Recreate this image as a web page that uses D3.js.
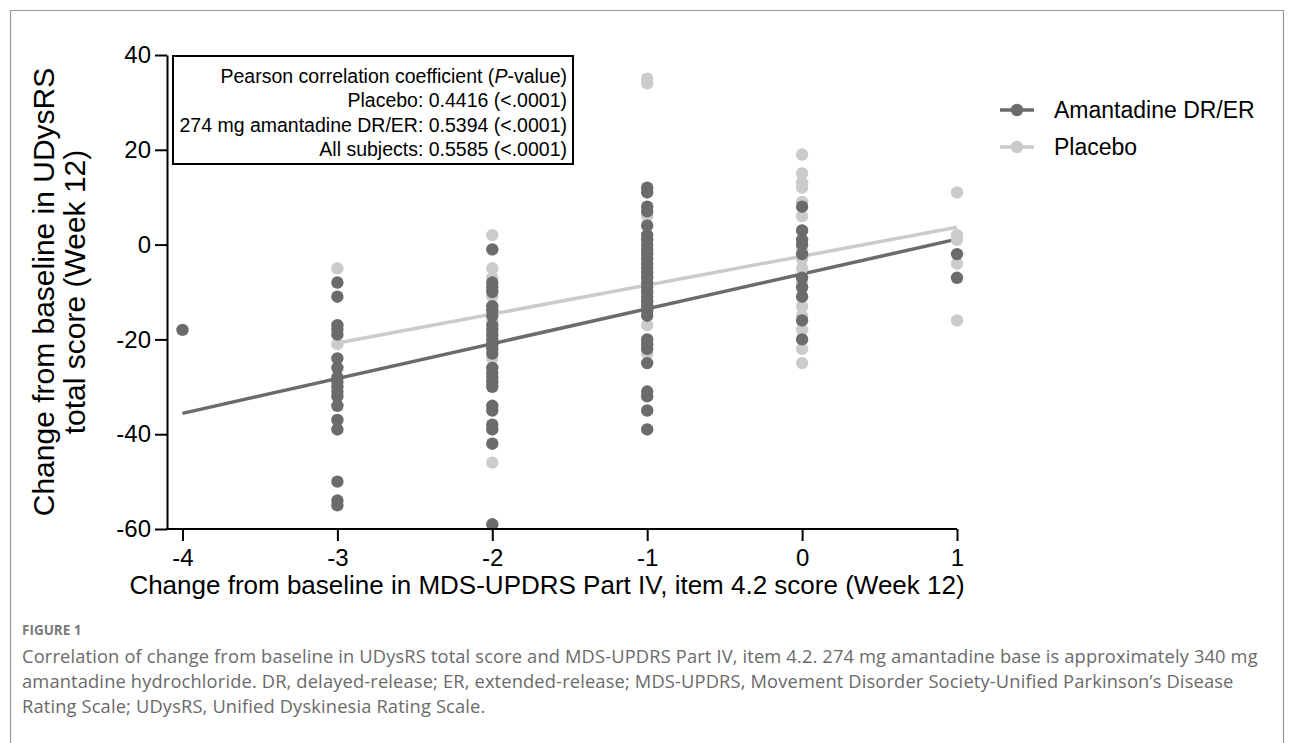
<!DOCTYPE html>
<html>
<head>
<meta charset="utf-8">
<script src="https://cdn.jsdelivr.net/npm/d3@7/dist/d3.min.js"></script>
<style>
  html, body { margin: 0; padding: 0; background: #fff; }
  svg { display: block; }
</style>
</head>
<body>
<svg id="chart" width="1292" height="743"></svg>
<script>
// ---------------- DATA ----------------
const xCategories = [-4, -3, -2, -1, 0, 1];
const xTicks = [-4, -3, -2, -1, 0, 1];
const yTicks = [-60, -40, -20, 0, 20, 40];

// Amantadine DR/ER points (change in UDysRS) for each x category
const amantadineX4 = [-18];
const amantadineX3 = [-8, -11, -17, -18, -19, -24, -26, -28, -29, -30, -31, -32, -34, -37, -39, -50, -54, -55];
const amantadineX2 = [-1, -8, -9, -10, -13, -14, -15, -17, -18, -19, -20, -21, -22, -23, -26, -27, -28, -29, -30, -34, -35, -38, -39, -42, -59];
const amantadineX1 = [12, 11, 8, 7, 4, 2, 1, 0, -1, -2, -3, -4, -5, -6, -7, -8, -9, -10, -11, -12, -13, -14, -15, -20, -21, -22, -25, -31, -32, -35, -39];
const amantadineX0 = [8, 3, 1, 0, -2, -7, -9, -11, -16, -20];
const amantadineXp1 = [-2, -7];

// Placebo points
const placeboX4 = [];
const placeboX3 = [-5, -21];
const placeboX2 = [2, -5, -7, -11, -16, -24, -46];
const placeboX1 = [35, 34, 6, -2, -6, -12, -17, -23];
const placeboX0 = [19, 15, 13, 12, 9, 6, -1, -3, -5, -8, -13, -15, -18, -22, -25];
const placeboXp1 = [11, 2, 1, -4, -16];

// Regression lines: [intercept, slope, xStart, xEnd]
const amantadineFit = [-6.2, 7.35, -4, 1];
const placeboFit = [-2.45, 6.1, -3, 1];

const seriesNames = ["Amantadine DR/ER", "Placebo"];
const boxLines = [
  "Pearson correlation coefficient (P-value)",
  "Placebo: 0.4416 (<.0001)",
  "274 mg amantadine DR/ER: 0.5394 (<.0001)",
  "All subjects: 0.5585 (<.0001)"
];
const xTitle = "Change from baseline in MDS-UPDRS Part IV, item 4.2 score (Week 12)";
const yTitle = ["Change from baseline in UDysRS", "total score (Week 12)"];
const figLabel = "FIGURE 1";
const captionLines = [
  "Correlation of change from baseline in UDysRS total score and MDS-UPDRS Part IV, item 4.2. 274 mg amantadine base is approximately 340 mg",
  "amantadine hydrochloride. DR, delayed-release; ER, extended-release; MDS-UPDRS, Movement Disorder Society-Unified Parkinson\u2019s Disease",
  "Rating Scale; UDysRS, Unified Dyskinesia Rating Scale."
];

// ---------------- BUILD ----------------
const toPoints = (xs, groups) => xs.flatMap((x, i) => groups[i].map(v => ({x, y: v})));
const amantadinePts = toPoints(xCategories, [amantadineX4, amantadineX3, amantadineX2, amantadineX1, amantadineX0, amantadineXp1]);
const placeboPts = toPoints(xCategories, [placeboX4, placeboX3, placeboX2, placeboX1, placeboX0, placeboXp1]);

const darkCol = "#6b6b6b";
const lightCol = "#cbcbcb";
const chartFont = "'Liberation Sans', Arial, Helvetica, sans-serif";

const svg = d3.select("#chart");
svg.append("rect").attr("width", 1292).attr("height", 743).attr("fill", "#fff");

// outer frame
svg.append("path")
  .attr("d", "M10.5,760 L10.5,10.5 L1283.5,10.5 L1283.5,760")
  .attr("fill", "none").attr("stroke", "#999").attr("stroke-width", 1.2);

const x = d3.scaleLinear().domain([-4.1, 1]).range([167, 957]);
const y = d3.scaleLinear().domain([-60, 40]).range([529, 55]);

// regression lines (under points)
const line = d3.line().x(d => x(d[0])).y(d => y(d[1]));
function fitPts(f) { return [[f[2], f[0] + f[1] * f[2]], [f[3], f[0] + f[1] * f[3]]]; }
svg.append("path").datum(fitPts(placeboFit)).attr("d", line)
  .attr("fill", "none").attr("stroke", lightCol).attr("stroke-width", 3.5);
svg.append("path").datum(fitPts(amantadineFit)).attr("d", line)
  .attr("fill", "none").attr("stroke", darkCol).attr("stroke-width", 3.5);

// points: placebo first, amantadine on top
svg.append("g").selectAll("circle").data(placeboPts).join("circle")
  .attr("cx", d => x(d.x)).attr("cy", d => y(d.y)).attr("r", 6.2).attr("fill", lightCol);
svg.append("g").selectAll("circle").data(amantadinePts).join("circle")
  .attr("cx", d => x(d.x)).attr("cy", d => y(d.y)).attr("r", 6.2).attr("fill", darkCol);

// axes
const fmt = d => String(d);
const yAxis = d3.axisLeft(y).tickValues(yTicks).tickFormat(fmt).tickSize(12).tickSizeOuter(0).tickPadding(4);
const gy = svg.append("g").attr("transform", "translate(167,0)").call(yAxis);
const xAxis = d3.axisBottom(x).tickValues(xTicks).tickFormat(fmt).tickSize(12).tickSizeOuter(0).tickPadding(8);
const gx = svg.append("g").attr("transform", "translate(0,529)").call(xAxis);
[gx, gy].forEach(g => {
  g.selectAll("path.domain").attr("stroke", "#000").attr("stroke-width", 2);
  g.selectAll(".tick line").attr("stroke", "#000").attr("stroke-width", 2);
  g.selectAll(".tick text").attr("font-family", chartFont).attr("font-size", 24).attr("fill", "#000");
});
gx.select("path.domain").attr("d", `M${x.range()[0] - 1},0H${x.range()[1]}`);

// annotation box
svg.append("rect").attr("x", 173).attr("y", 56).attr("width", 400).attr("height", 108)
  .attr("fill", "#fff").attr("stroke", "#000").attr("stroke-width", 2);
const bt = svg.append("g").attr("font-family", chartFont).attr("font-size", 19.5).attr("text-anchor", "end");
boxLines.forEach((s, i) => {
  const t = bt.append("text").attr("x", 567).attr("y", 83 + i * 24.3);
  if (i === 0) {
    t.append("tspan").text("Pearson correlation coefficient (");
    t.append("tspan").attr("font-style", "italic").text("P");
    t.append("tspan").text("-value)");
  } else t.text(s);
});

// legend
const legend = svg.append("g").attr("font-family", chartFont).attr("font-size", 23);
[[seriesNames[0], darkCol], [seriesNames[1], lightCol]].forEach((d, i) => {
  const yy = 110 + i * 37;
  legend.append("line").attr("x1", 1000).attr("x2", 1034).attr("y1", yy).attr("y2", yy)
    .attr("stroke", d[1]).attr("stroke-width", 3.5);
  legend.append("circle").attr("cx", 1017).attr("cy", yy).attr("r", 6.2).attr("fill", d[1]);
  legend.append("text").attr("x", 1054).attr("y", yy).attr("dy", "0.35em").text(d[0]);
});

// axis titles
svg.append("text").attr("font-family", chartFont).attr("font-size", 26)
  .attr("text-anchor", "middle").attr("x", 547).attr("y", 594).text(xTitle);
const yt = svg.append("text").attr("font-family", chartFont).attr("font-size", 30)
  .attr("text-anchor", "middle").attr("transform", "translate(0,292) rotate(-90)");
yTitle.forEach((s, i) => yt.append("tspan").attr("x", 0).attr("y", 54 + i * 31).text(s));

// caption
const capFont = "'Open Sans', 'Noto Sans', sans-serif";
svg.append("text").attr("x", 22).attr("y", 635).attr("font-family", capFont)
  .attr("font-size", 13.5).attr("font-weight", 700).attr("fill", "#7a7a7a").text(figLabel);
captionLines.forEach((s, i) => {
  svg.append("text").attr("x", 22).attr("y", 663 + i * 24.9).attr("font-family", capFont)
    .attr("font-size", 18.3).attr("letter-spacing", 0.15).attr("fill", "#6a6a6a").text(s);
});
</script>
</body>
</html>
